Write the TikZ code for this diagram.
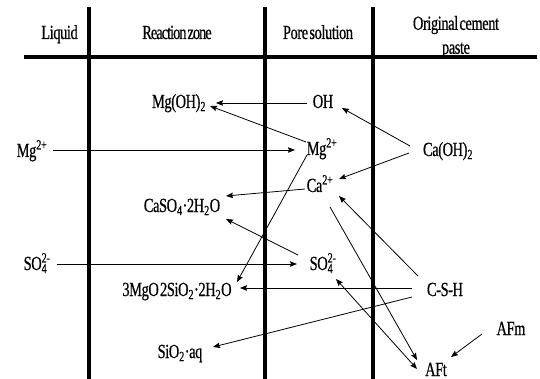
\documentclass[tikz,border=0pt]{standalone}
\usepackage{fontspec}
\setmainfont[FakeStretch=0.72,LetterSpace=-2,WordSpace=0.4,FakeBold=0.6]{Liberation Serif}
\usetikzlibrary{arrows.meta}
\tikzset{
  lbl/.style={inner sep=0pt, anchor=base, font=\fontsize{20}{22}\selectfont},
  arr/.style={-{Stealth[length=7pt,width=5.5pt,inset=1pt]}, line width=0.8pt},
  darr/.style={{Stealth[length=7pt,width=5.5pt,inset=1pt]}-{Stealth[length=7pt,width=5.5pt,inset=1pt]}, line width=0.8pt},
  rule/.style={line width=3.5pt}
}
\newcommand{\sofour}{SO\rlap{\textsubscript{4}}\textsuperscript{2-}}
\begin{document}
\begin{tikzpicture}[x=1pt,y=-1pt]
\useasboundingbox (0,0) rectangle (540,379);
% table rules
\draw[rule] (24,57) -- (537,57);
\draw[rule] (89,7) -- (89,379);
\draw[rule] (265,7) -- (265,379);
\draw[rule] (373,7) -- (373,379);
% headers
\node[lbl] (hliq) at (59.5,39) {Liquid};
\node[lbl] (hrz) at (177,39) {\addfontfeature{LetterSpace=-5}Reaction zone};
\node[lbl] (hps) at (318,39) {Pore solution};
\node[lbl, anchor=center, align=center, font=\fontsize{20}{24}\selectfont] (hoc) at (456,37) {Original cement\\paste};
% species
\node[lbl] (mgoh) at (179,108) {Mg(OH)\textsubscript{2}};
\node[lbl] (oh) at (323,108) {OH};
\node[lbl] (mgl) at (32,157) {Mg\textsuperscript{2+}};
\node[lbl] (mgc) at (322,155) {Mg\textsuperscript{2+}};
\node[lbl] (caoh) at (448,156) {Ca(OH)\textsubscript{2}};
\node[lbl] (ca) at (320,192) {Ca\textsuperscript{2+}};
\node[lbl] (caso4) at (182,212) {CaSO\textsubscript{4}·2H\textsubscript{2}O};
\node[lbl] (so4l) at (37,270) {\sofour};
\node[lbl] (so4c) at (323,270) {\sofour};
\node[lbl] (mgo) at (177,296) {3MgO 2SiO\textsubscript{2}·2H\textsubscript{2}O};
\node[lbl] (csh) at (445,296) {C-S-H};
\node[lbl] (sio2) at (180,358) {SiO\textsubscript{2}·aq};
\node[lbl] (afm) at (511,335) {AFm};
\node[lbl] (aft) at (436,376) {AFt};
% connectors
\draw[arr] ([shift={(-16,-5)}]oh.base) -- ([shift={(37,-5)}]mgoh.base);
\draw[arr] ([shift={(-16,-13)}]mgc.base) -- ([shift={(31,-2)}]mgoh.base);
\draw[arr] ([shift={(-38,-10)}]caoh.base) -- ([shift={(19,0)}]oh.base);
\draw[arr] ([shift={(21,-7)}]mgl.base) -- ([shift={(-27,-5)}]mgc.base);
\draw[arr] ([shift={(-39,-3)}]caoh.base) -- ([shift={(19,-13)}]ca.base);
\draw[arr] ([shift={(-15,-3)}]ca.base) -- ([shift={(44,-16)}]caso4.base);
\draw[arr] ([shift={(-15,0)}]mgc.base) -- ([shift={(60,-14)}]mgo.base);
\draw[arr] ([shift={(-25,-15)}]so4c.base) -- ([shift={(44,7)}]caso4.base);
\draw[arr] ([shift={(10,15)}]ca.base) -- ([shift={(-19,-16)}]aft.base);
\draw[arr] ([shift={(-27,-20)}]csh.base) -- ([shift={(19,4)}]ca.base);
\draw[arr] ([shift={(20,-6)}]so4l.base) -- ([shift={(-26,-6)}]so4c.base);
\draw[arr] ([shift={(-33,-8)}]csh.base) -- ([shift={(63,-8)}]mgo.base);
\draw[arr] ([shift={(-33,1)}]csh.base) -- ([shift={(33,-11)}]sio2.base);
\draw[darr] ([shift={(13,9)}]so4c.base) -- ([shift={(-19,-7)}]aft.base);
\draw[arr] ([shift={(-29,-1)}]afm.base) -- ([shift={(15,-19)}]aft.base);
\end{tikzpicture}
\end{document}
